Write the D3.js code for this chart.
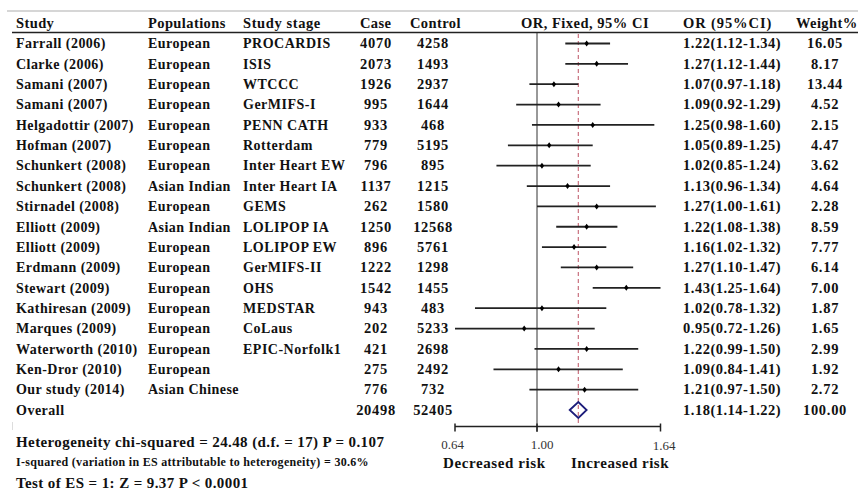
<!DOCTYPE html>
<html>
<head>
<meta charset="utf-8">
<script src="https://cdn.jsdelivr.net/npm/d3@7"></script>
<style>
	body { margin: 0; background: #fff; }
	text { font-family: "Liberation Serif", "Times New Roman", serif; font-weight: bold; fill: #111; }
</style>
</head>
<body>
<svg id="forest" width="858" height="489"></svg>
<script>

// study table
var studies = ["Farrall (2006)", "Clarke (2006)", "Samani (2007)", "Samani (2007)", "Helgadottir (2007)",
	"Hofman (2007)", "Schunkert (2008)", "Schunkert (2008)", "Stirnadel (2008)", "Elliott (2009)",
	"Elliott (2009)", "Erdmann (2009)", "Stewart (2009)", "Kathiresan (2009)", "Marques (2009)",
	"Waterworth (2010)", "Ken-Dror (2010)", "Our study (2014)"];
var populations = ["European", "European", "European", "European", "European", "European", "European",
	"Asian Indian", "European", "Asian Indian", "European", "European", "European", "European",
	"European", "European", "European", "Asian Chinese"];
var stages = ["PROCARDIS", "ISIS", "WTCCC", "GerMIFS-I", "PENN CATH", "Rotterdam", "Inter Heart EW",
	"Inter Heart IA", "GEMS", "LOLIPOP IA", "LOLIPOP EW", "GerMIFS-II", "OHS", "MEDSTAR", "CoLaus",
	"EPIC-Norfolk1", "", ""];
var cases = [4070, 2073, 1926, 995, 933, 779, 796, 1137, 262, 1250, 896, 1222, 1542, 943, 202, 421, 275, 776];
var controls = [4258, 1493, 2937, 1644, 468, 5195, 895, 1215, 1580, 12568, 5761, 1298, 1455, 483, 5233, 2698, 2492, 732];
var or = [1.22, 1.27, 1.07, 1.09, 1.25, 1.05, 1.02, 1.13, 1.27, 1.22, 1.16, 1.27, 1.43, 1.02, 0.95, 1.22, 1.09, 1.21];
var lower = [1.12, 1.12, 0.97, 0.92, 0.98, 0.89, 0.85, 0.96, 1.00, 1.08, 1.02, 1.10, 1.25, 0.78, 0.72, 0.99, 0.84, 0.97];
var upper = [1.34, 1.44, 1.18, 1.29, 1.60, 1.25, 1.24, 1.34, 1.61, 1.38, 1.32, 1.47, 1.64, 1.32, 1.26, 1.50, 1.41, 1.50];
var weights = ["16.05", "8.17", "13.44", "4.52", "2.15", "4.47", "3.62", "4.64", "2.28", "8.59", "7.77",
	"6.14", "7.00", "1.87", "1.65", "2.99", "1.92", "2.72"];

// pooled result
var overall = { cases: 20498, controls: 52405, or: 1.18, lower: 1.14, upper: 1.22, weight: "100.00" };

// axis of the plot as printed in the original (left end is labelled 0.64)
var axisTicks = [0.72, 1, 1.64];
var axisLabels = ["0.64", "1.00", "1.64"];

var headers = ["Study", "Populations", "Study stage", "Case", "Control", "OR, Fixed, 95% CI", "OR (95%CI)", "Weight%"];

var footLines = ["Heterogeneity chi-squared = 24.48 (d.f. = 17) P = 0.107",
	"I-squared (variation in ES attributable to heterogeneity) = 30.6%",
	"Test of ES = 1: Z = 9.37 P < 0.0001"];


var svg = d3.select("#forest");

var x = d3.scaleLog().domain([0.72, 1.64]).range([455, 660.5]);
var y = d3.scaleLinear().domain([0, 18]).range([43.5, 410]);

function fmt(v) { return v.toFixed(2); }

var rows = studies.map(function(s, i) {
	return { study: s, pop: populations[i], stage: stages[i], cases: cases[i], controls: controls[i],
		or: or[i], lo: lower[i], hi: upper[i], weight: weights[i], i: i };
});
rows.forEach(function(r) { r.ci = fmt(r.or) + "(" + fmt(r.lo) + "-" + fmt(r.hi) + ")"; });

// top rules
svg.append("line").attr("x1", 7).attr("x2", 858).attr("y1", 11).attr("y2", 11)
	.style("stroke", "#c8c8c8").style("stroke-width", 1.5);
svg.append("line").attr("x1", 12).attr("x2", 858).attr("y1", 32.5).attr("y2", 32.5)
	.style("stroke", "#222").style("stroke-width", 1.5);

// header
var headX = [16, 148, 243, 360, 410, 585, 683, 796];
var headAnchor = ["start", "start", "start", "start", "start", "middle", "start", "start"];
var headSpacing = [0.4, 0.4, 0.6, 0.4, 0.4, 0.5, 0.9, 0.4];
svg.selectAll("text.head")
	.data(headers)
	.enter().append("text")
	.attr("class", "head")
	.attr("x", function(d, i) { return headX[i]; })
	.attr("y", 28)
	.attr("text-anchor", function(d, i) { return headAnchor[i]; })
	.style("font-size", "14.5px")
	.style("letter-spacing", function(d, i) { return headSpacing[i] + "px"; })
	.text(function(d) { return d; });

// table columns (word columns are spaced out a little)
var cols = [
	{ key: "study", x: 16, anchor: "start", size: 14, ls: 0.45 },
	{ key: "pop", x: 148, anchor: "start", size: 14, ls: 0.45 },
	{ key: "stage", x: 243, anchor: "start", size: 14, ls: 0.5 },
	{ key: "cases", x: 376, anchor: "middle", size: 14.5, ls: 0.7 },
	{ key: "controls", x: 433, anchor: "middle", size: 14.5, ls: 0.7 },
	{ key: "ci", x: 683, anchor: "start", size: 14.5, ls: 0.5 },
	{ key: "weight", x: 825, anchor: "middle", size: 14.5, ls: 0.7 }
];

cols.forEach(function(c) {
	svg.selectAll("text.col-" + c.key)
		.data(rows)
		.enter().append("text")
		.attr("class", "col-" + c.key)
		.attr("x", c.x)
		.attr("y", function(d) { return y(d.i) + 4.8; })
		.attr("text-anchor", c.anchor)
		.style("font-size", c.size + "px")
		.style("letter-spacing", c.ls + "px")
		.text(function(d) { return d[c.key]; });
});

// overall row
var oy = y(18);
var overallCells = [
	{ t: "Overall", x: 16, a: "start", s: 14, ls: 0.5 },
	{ t: overall.cases, x: 376, a: "middle", s: 14.5, ls: 0.7 },
	{ t: overall.controls, x: 433, a: "middle", s: 14.5, ls: 0.7 },
	{ t: fmt(overall.or) + "(" + fmt(overall.lower) + "-" + fmt(overall.upper) + ")", x: 683, a: "start", s: 14.5, ls: 0.5 },
	{ t: overall.weight, x: 825, a: "middle", s: 14.5, ls: 0.7 }
];
svg.selectAll("text.overall")
	.data(overallCells)
	.enter().append("text")
	.attr("class", "overall")
	.attr("x", function(d) { return d.x; })
	.attr("y", oy + 4.8)
	.attr("text-anchor", function(d) { return d.a; })
	.style("font-size", function(d) { return d.s + "px"; })
	.style("letter-spacing", function(d) { return d.ls + "px"; })
	.text(function(d) { return d.t; });

// reference line at OR = 1
svg.append("line")
	.attr("x1", x(1)).attr("x2", x(1))
	.attr("y1", 33).attr("y2", 432)
	.style("stroke", "#333").style("stroke-width", 1);

// dashed line at pooled OR
svg.append("line")
	.attr("x1", x(overall.or)).attr("x2", x(overall.or))
	.attr("y1", 34).attr("y2", 426)
	.style("stroke", "#c8707e").style("stroke-width", 1.2)
	.style("stroke-dasharray", "4,3");

// confidence intervals
svg.selectAll("line.ci")
	.data(rows)
	.enter().append("line")
	.attr("class", "ci")
	.attr("x1", function(d) { return x(d.lo); })
	.attr("x2", function(d) { return x(d.hi); })
	.attr("y1", function(d) { return y(d.i); })
	.attr("y2", function(d) { return y(d.i); })
	.style("stroke", "#222")
	.style("stroke-width", 1.8);

// point estimates
svg.selectAll("path.pt")
	.data(rows)
	.enter().append("path")
	.attr("class", "pt")
	.attr("d", function(d) {
		var cx = x(d.or), cy = y(d.i);
		return "M" + cx + "," + (cy - 3) + "L" + (cx + 2.2) + "," + cy + "L" + cx + "," + (cy + 3) + "L" + (cx - 2.2) + "," + cy + "Z";
	})
	.style("fill", "#000");

// pooled diamond
svg.append("path")
	.attr("d", "M" + x(overall.lower) + "," + oy +
		"L" + x(overall.or) + "," + (oy - 8) +
		"L" + x(overall.upper) + "," + oy +
		"L" + x(overall.or) + "," + (oy + 8) + "Z")
	.style("fill", "none")
	.style("stroke", "#1c1c7a")
	.style("stroke-width", 1.8);

// x axis
var axisY = 426.5;
var axis = svg.append("g").attr("class", "axis");
axis.append("line")
	.attr("x1", x(axisTicks[0])).attr("x2", x(axisTicks[2]))
	.attr("y1", axisY).attr("y2", axisY)
	.style("stroke", "#222").style("stroke-width", 1.5);
axis.selectAll("line.tick")
	.data(axisTicks)
	.enter().append("line")
	.attr("class", "tick")
	.attr("x1", function(d) { return x(d); })
	.attr("x2", function(d) { return x(d); })
	.attr("y1", axisY - 3)
	.attr("y2", axisY + 5)
	.style("stroke", "#222").style("stroke-width", 1.5);
var labelShift = [-2.5, 5, 3.5];
axis.selectAll("text.tl")
	.data(axisTicks)
	.enter().append("text")
	.attr("class", "tl")
	.attr("x", function(d) { return x(d); })
	.attr("y", function(d, i) { return i == 2 ? 450 : 449; })
	.attr("text-anchor", "middle")
	.attr("dx", function(d, i) { return labelShift[i]; })
	.style("font-size", "13px")
	.style("font-weight", "normal")
	.style("fill", "#333")
	.text(function(d, i) { return axisLabels[i]; });

svg.append("text").attr("x", 443).attr("y", 467.5)
	.style("font-size", "15px").style("letter-spacing", "0.6px").text("Decreased risk");
svg.append("text").attr("x", 571).attr("y", 467.5)
	.style("font-size", "15px").style("letter-spacing", "0.5px").text("Increased risk");

// small stray mark at left edge
svg.append("line").attr("x1", 12.5).attr("x2", 12.5).attr("y1", 422).attr("y2", 430)
	.style("stroke", "#ddd").style("stroke-width", 1);

// footer statistics
var footSize = [15, 12, 15];
var footSpacing = [0.4, 0.3, 0.4];
var footY = [447, 466, 487.5];
svg.selectAll("text.foot")
	.data(footLines)
	.enter().append("text")
	.attr("class", "foot")
	.attr("x", 16)
	.attr("y", function(d, i) { return footY[i]; })
	.style("font-size", function(d, i) { return footSize[i] + "px"; })
	.style("letter-spacing", function(d, i) { return footSpacing[i] + "px"; })
	.text(function(d) { return d; });

</script>
</body>
</html>
